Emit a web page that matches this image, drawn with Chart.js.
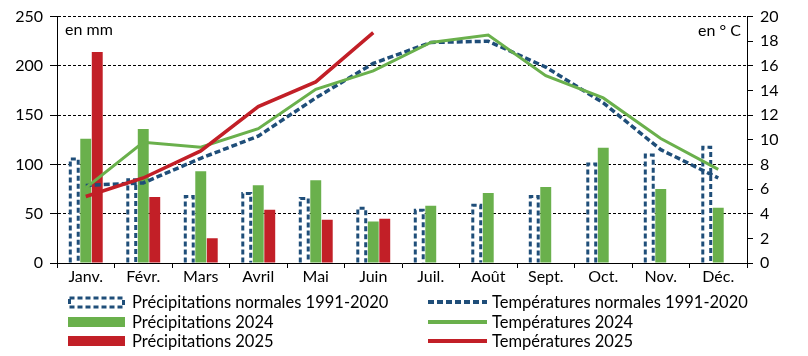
<!DOCTYPE html>
<html>
<head>
<meta charset="utf-8">
<script src="https://cdn.jsdelivr.net/npm/chart.js@4.4.1/dist/chart.umd.min.js"></script>
<style>
  body { margin: 0; background: #fff; }
  #box { position: relative; width: 808px; height: 356px; }
</style>
</head>
<body>
<div id="box"><canvas id="meteo" width="808" height="356"></canvas></div>
<script>
const months = ['Janv.', 'Févr.', 'Mars', 'Avril', 'Mai', 'Juin', 'Juil.', 'Août', 'Sept.', 'Oct.', 'Nov.', 'Déc.'];

// précipitations en mm
const precipNormal = [107, 86, 69, 72, 67, 57, 55, 60, 69, 102, 111, 119];
const precip2024 = [126, 136, 93, 79, 84, 42, 58, 71, 77, 117, 75, 56];
const precip2025 = [214, 67, 25, 54, 44, 45, null, null, null, null, null, null];

// températures en °C
const tempNormal = [6.3, 6.5, 8.5, 10.3, 13.4, 16.2, 17.9, 18.0, 15.9, 13.0, 9.2, 6.9];
const temp2024 = [6.1, 9.8, 9.4, 10.9, 14.1, 15.6, 17.9, 18.5, 15.2, 13.4, 10.1, 7.6];
const temp2025 = [5.4, 6.9, 9.1, 12.7, 14.7, 18.7, null, null, null, null, null, null];

const blue = '#1f4e79';
const green = '#6ab04c';
const red = '#c21f27';

Chart.defaults.font.family = 'Lato';
Chart.defaults.font.size = 16;
Chart.defaults.color = '#000';

// Chart.js bars can't have dashed borders, so draw the outline ourselves
const dashedBars = {
  id: 'dashedBars',
  afterDatasetDraw(chart, args) {
    if (args.index !== 0) return;
    const ctx = chart.ctx;
    ctx.save();
    ctx.strokeStyle = blue;
    ctx.lineWidth = 3;
    ctx.setLineDash([5, 3]);
    args.meta.data.forEach(bar => {
      const { x, y, base, width } = bar.getProps(['x', 'y', 'base', 'width'], true);
      const l = x - width / 2 + 1.5, r = x + width / 2 - 1.5;
      ctx.beginPath();
      ctx.moveTo(l, base);
      ctx.lineTo(l, y + 1.5);
      ctx.lineTo(r, y + 1.5);
      ctx.lineTo(r, base);
      ctx.stroke();
    });
    ctx.restore();
  }
};

// units + legend in two columns
const extras = {
  id: 'extras',
  afterDraw(chart) {
    const ctx = chart.ctx;
    const area = chart.chartArea;
    ctx.save();
    ctx.fillStyle = '#000';
    ctx.font = '16px Lato';
    ctx.textBaseline = 'middle';
    ctx.textAlign = 'left';
    ctx.fillText('en mm', area.left + 8, area.top + 13);
    ctx.textAlign = 'right';
    ctx.fillText('en ° C', area.right - 6, area.top + 14);

    const rows = [302, 322, 341];
    ctx.textAlign = 'left';
    ctx.font = '16.5px Lato';

    // left column: bars
    ctx.strokeStyle = blue;
    ctx.lineWidth = 3;
    ctx.setLineDash([5, 3]);
    ctx.strokeRect(69.5, rows[0] - 4, 54, 9);
    ctx.setLineDash([]);
    ctx.fillStyle = green;
    ctx.fillRect(68, rows[1] - 5, 57, 10);
    ctx.fillStyle = red;
    ctx.fillRect(68, rows[2] - 5, 57, 10);
    ctx.fillStyle = '#000';
    ctx.fillText('Précipitations normales 1991-2020', 132, rows[0] + 1);
    ctx.fillText('Précipitations 2024', 132, rows[1] + 1);
    ctx.fillText('Précipitations 2025', 132, rows[2] + 1);

    // right column: lines
    const lines = [[blue, [6, 3]], [green, []], [red, []]];
    lines.forEach((l, i) => {
      ctx.strokeStyle = l[0];
      ctx.lineWidth = 4;
      ctx.setLineDash(l[1]);
      ctx.beginPath();
      ctx.moveTo(428, rows[i]);
      ctx.lineTo(487, rows[i]);
      ctx.stroke();
    });
    ctx.setLineDash([]);
    ctx.fillText('Températures normales 1991-2020', 492, rows[0] + 1);
    ctx.fillText('Températures 2024', 492, rows[1] + 1);
    ctx.fillText('Températures 2025', 492, rows[2] + 1);
    ctx.restore();
  }
};

new Chart(document.getElementById('meteo'), {
  data: {
    labels: months,
    datasets: [
      {
        type: 'bar',
        label: 'Précipitations normales 1991-2020',
        data: precipNormal,
        backgroundColor: '#fff',
        borderWidth: 0,
        yAxisID: 'y',
        order: 5
      },
      {
        type: 'bar',
        label: 'Précipitations 2024',
        data: precip2024,
        backgroundColor: green,
        yAxisID: 'y',
        order: 5
      },
      {
        type: 'bar',
        label: 'Précipitations 2025',
        data: precip2025,
        backgroundColor: red,
        yAxisID: 'y',
        order: 5
      },
      {
        type: 'line',
        label: 'Températures normales 1991-2020',
        data: tempNormal,
        borderColor: blue,
        borderWidth: 3.5,
        borderDash: [6, 3],
        pointRadius: 0,
        tension: 0,
        yAxisID: 'y1',
        order: 3
      },
      {
        type: 'line',
        label: 'Températures 2024',
        data: temp2024,
        borderColor: green,
        borderWidth: 3,
        pointRadius: 0,
        tension: 0,
        yAxisID: 'y1',
        order: 2
      },
      {
        type: 'line',
        label: 'Températures 2025',
        data: temp2025,
        borderColor: red,
        borderWidth: 3.5,
        pointRadius: 0,
        tension: 0,
        spanGaps: false,
        yAxisID: 'y1',
        order: 1
      }
    ]
  },
  options: {
    responsive: false,
    animation: false,
    layout: { padding: { top: 14, left: 0, right: 0, bottom: 0 } },
    datasets: {
      bar: { categoryPercentage: 0.6, barPercentage: 0.95 }
    },
    plugins: {
      legend: { display: false },
      tooltip: { enabled: false }
    },
    scales: {
      x: {
        offset: true,
        grid: {
          offset: true,
          drawOnChartArea: false,
          tickLength: 5,
          tickColor: '#000'
        },
        border: { color: '#000', width: 1 },
        ticks: { padding: -1, maxRotation: 0, autoSkip: false },
        afterFit: s => { s.height = 93; }
      },
      y: {
        position: 'left',
        min: 0,
        max: 250,
        ticks: { stepSize: 50, padding: 7 },
        grid: {
          color: c => c.tick.value === 0 ? 'rgba(0,0,0,0)' : '#000',
          tickColor: '#000',
          tickLength: 7,
          lineWidth: 1
        },
        border: { color: '#000', width: 1, dash: [3, 2] },
        afterFit: s => { s.width = 57; }
      },
      y1: {
        position: 'right',
        min: 0,
        max: 20,
        ticks: { stepSize: 2, padding: 7 },
        grid: {
          drawOnChartArea: false,
          tickColor: '#000',
          tickLength: 6
        },
        border: { color: '#000', width: 1 },
        afterFit: s => { s.width = 61; }
      }
    }
  },
  plugins: [dashedBars, extras]
});
</script>
</body>
</html>
